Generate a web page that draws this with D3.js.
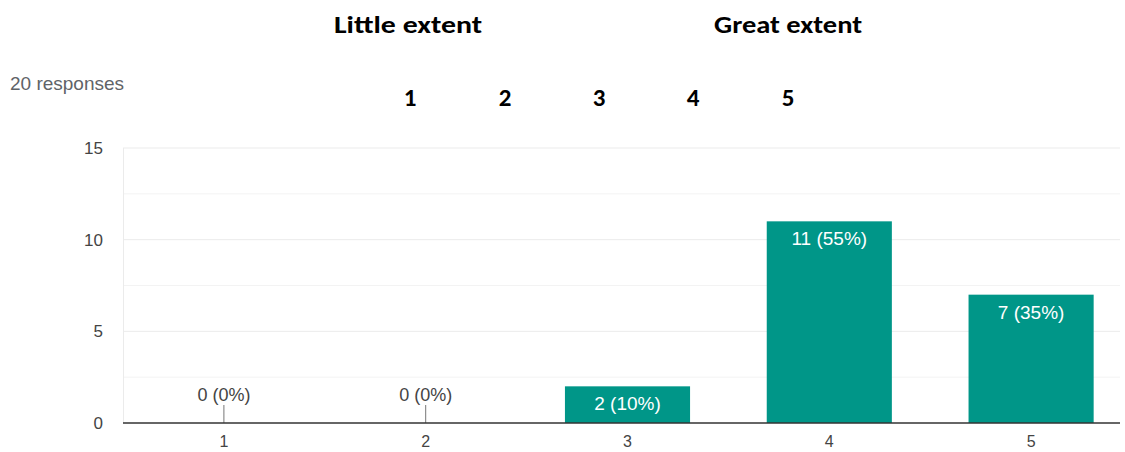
<!DOCTYPE html>
<html><head><meta charset="utf-8">
<script src="https://cdn.jsdelivr.net/npm/d3@7"></script>
<style>body{margin:0;background:#fff}svg{display:block}</style>
</head><body>
<svg id="c" width="1125" height="452"></svg>
<script>
const categories = ["1","2","3","4","5"];
const counts = [0, 0, 2, 11, 7];
const totalResponses = 20;
const yTicks = [0, 5, 10, 15];
const yMinor = [2.5, 7.5, 12.5];
const headerWords = ["Little extent", "Great extent"];
const scaleNumbers = ["1","2","3","4","5"];

const svg = d3.select("#c");
const x = d3.scaleBand().domain(categories).range([123, 1132]).paddingInner(0.38).paddingOuter(0.19);
const y = d3.scaleLinear().domain([0, 15]).range([423, 148]);
const gridRight = 1120;
const sans = "'Liberation Sans', Arial, sans-serif";
const head = "Carlito, 'Open Sans', sans-serif";

// header
const hx = d3.scaleOrdinal().domain(headerWords).range([408, 788]);
svg.selectAll("text.hw").data(headerWords).join("text").attr("class","hw")
  .attr("x", d => hx(d)).attr("y", 33).attr("text-anchor","middle")
  .attr("textLength", 148).attr("lengthAdjust", "spacingAndGlyphs")
  .style("font-family", head).style("font-weight","700").style("font-size","25px").style("fill","#000")
  .text(d => d);
const nx = d3.scaleOrdinal().domain(scaleNumbers).range([410, 505, 599, 693, 788]);
svg.selectAll("text.sn").data(scaleNumbers).join("text").attr("class","sn")
  .attr("x", d => nx(d)).attr("y", 106).attr("text-anchor","middle")
  .style("font-family", head).style("font-weight","700").style("font-size","25px").style("fill","#000")
  .text(d => d);

svg.append("text").attr("x", 10).attr("y", 90).text(totalResponses + " responses")
  .style("font-family", sans).style("font-size","19px").style("fill","#5f6368");

// gridlines
svg.selectAll("line.minor").data(yMinor).join("line").attr("class","minor")
  .attr("x1", 123).attr("x2", gridRight).attr("y1", d => y(d)).attr("y2", d => y(d))
  .attr("stroke", "#f3f3f3").attr("stroke-width", 1);
svg.selectAll("line.major").data(yTicks.filter(d => d > 0)).join("line").attr("class","major")
  .attr("x1", 123).attr("x2", gridRight).attr("y1", d => y(d)).attr("y2", d => y(d))
  .attr("stroke", "#ebebeb").attr("stroke-width", 1);
svg.append("line").attr("x1", 123.5).attr("x2", 123.5).attr("y1", y(15)).attr("y2", y(0))
  .attr("stroke", "#ebebeb");

// y axis labels
svg.selectAll("text.yt").data(yTicks).join("text").attr("class","yt")
  .attr("x", 103).attr("y", d => y(d) + 6).attr("text-anchor","end")
  .style("font-family", sans).style("font-size","17px").style("fill","#444")
  .text(d => d);

// bars
const bars = categories.map((c, i) => ({c, v: counts[i], label: counts[i] + " (" + Math.round(counts[i] / totalResponses * 100) + "%)"}));
svg.selectAll("rect.bar").data(bars.filter(d => d.v > 0)).join("rect").attr("class","bar")
  .attr("x", d => x(d.c)).attr("width", x.bandwidth())
  .attr("y", d => y(d.v)).attr("height", d => y(0) - y(d.v))
  .attr("fill", "#009688");

// labels in bars
svg.selectAll("text.bl").data(bars.filter(d => d.v > 0)).join("text").attr("class","bl")
  .attr("x", d => x(d.c) + x.bandwidth() / 2).attr("y", d => y(d.v) + 24).attr("text-anchor","middle")
  .style("font-family", sans).style("font-size","19px").style("fill","#fff")
  .text(d => d.label);

// zero labels
const zeros = bars.filter(d => d.v === 0);
svg.selectAll("line.zl").data(zeros).join("line").attr("class","zl")
  .attr("x1", d => x(d.c) + x.bandwidth() / 2).attr("x2", d => x(d.c) + x.bandwidth() / 2)
  .attr("y1", y(0) - 18).attr("y2", y(0)).attr("stroke", "#777").attr("stroke-width", 1);
svg.selectAll("text.zt").data(zeros).join("text").attr("class","zt")
  .attr("x", d => x(d.c) + x.bandwidth() / 2).attr("y", y(0) - 22).attr("text-anchor","middle")
  .style("font-family", sans).style("font-size","18px").style("fill","#444")
  .text(d => d.label);

// baseline
svg.append("line").attr("x1", 123).attr("x2", gridRight).attr("y1", y(0)).attr("y2", y(0))
  .attr("stroke", "#333").attr("stroke-width", 1.5);

// x labels
svg.selectAll("text.xt").data(categories).join("text").attr("class","xt")
  .attr("x", d => x(d) + x.bandwidth() / 2).attr("y", 447).attr("text-anchor","middle")
  .style("font-family", sans).style("font-size","16px").style("fill","#444")
  .text(d => d);
</script>
</body></html>
